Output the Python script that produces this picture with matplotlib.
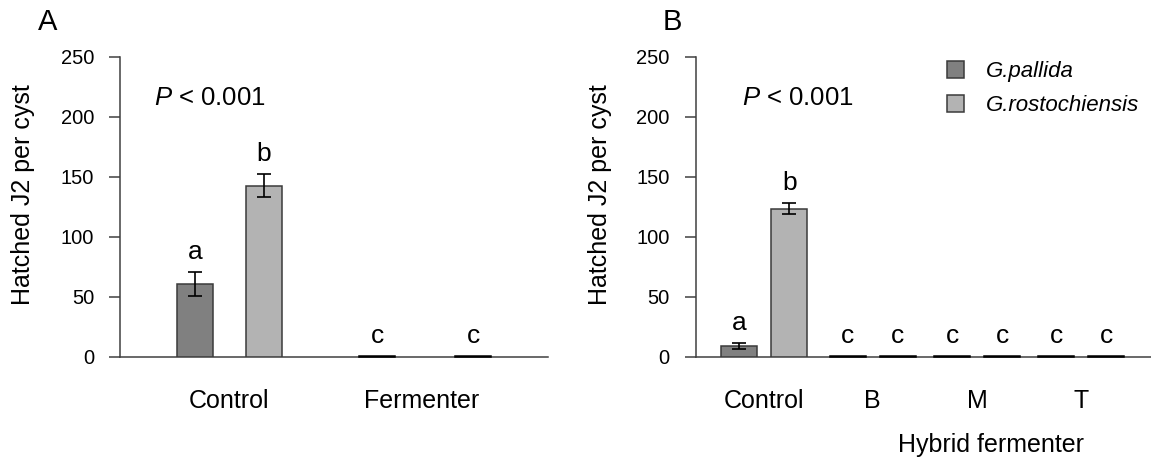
import matplotlib
matplotlib.use("Agg")
import matplotlib.pyplot as plt
from matplotlib.patches import Patch

plt.rcParams['font.family'] = ['Liberation Sans', 'DejaVu Sans']
plt.rcParams['mathtext.fontset'] = 'custom'
plt.rcParams['mathtext.it'] = 'Liberation Sans:italic'
plt.rcParams['mathtext.rm'] = 'Liberation Sans'

# panel A
groups_a = ['Control', 'Fermenter']
pallida_a = [60.7, 0.6]
pallida_a_err = [9.9, 0]
rost_a = [142.5, 0.6]
rost_a_err = [9.5, 0]
letters_pallida_a = ['a', 'c']
letters_rost_a = ['b', 'c']

# panel B
groups_b = ['Control', 'B', 'M', 'T']
pallida_b = [9.3, 0.6, 0.6, 0.6]
pallida_b_err = [2.3, 0, 0, 0]
rost_b = [123.3, 0.6, 0.6, 0.6]
rost_b_err = [4.5, 0, 0, 0]
letters_pallida_b = ['a', 'c', 'c', 'c']
letters_rost_b = ['b', 'c', 'c', 'c']

species = ['G.pallida', 'G.rostochiensis']
colors = ['#808080', '#b3b3b3']
edge = '#3a3a3a'
axcol = '#404040'

W, H = 1151, 459
fig = plt.figure(figsize=(W / 100, H / 100), dpi=100)


def add_axes(x0, x1, y0, y1):
    return fig.add_axes([x0 / W, 1 - y1 / H, (x1 - x0) / W, (y1 - y0) / H])


def draw(ax, pos, off, width, vals, errs, letters, xmax):
    for k in range(2):
        xs = [p + (2 * k - 1) * o for p, o in zip(pos, off)]
        bars = ax.bar(xs, vals[k], width, color=colors[k], edgecolor=edge,
                      linewidth=1.1, zorder=3)
        for b, v in zip(bars, vals[k]):
            if v < 1:
                b.set_edgecolor('black')
                b.set_clip_on(False)
        ax.errorbar([x for x, v in zip(xs, errs[k]) if v > 0],
                    [y for y, v in zip(vals[k], errs[k]) if v > 0],
                    yerr=[v for v in errs[k] if v > 0], fmt='none',
                    ecolor='black', elinewidth=1.2, capsize=5, capthick=1.2,
                    zorder=4)
        for x, y, er, t in zip(xs, vals[k], errs[k], letters[k]):
            ax.text(x, y + er + 17, t, ha='center', va='center', fontsize=19)
    ax.set_xlim(0, xmax)
    ax.set_ylim(0, 250)
    ax.set_yticks(range(0, 251, 50))
    for s in ['top', 'right']:
        ax.spines[s].set_visible(False)
    for s in ['left', 'bottom']:
        ax.spines[s].set_color(axcol)
        ax.spines[s].set_linewidth(1.1)
    ax.tick_params(axis='y', length=8, width=1.1, color=axcol, pad=11,
                   labelsize=14.5)
    ax.tick_params(axis='x', length=0, pad=23, labelsize=18)


axA = add_axes(120.4, 548.2, 56.7, 357)
draw(axA, [1.02, 2.85], [0.323, 0.449], 0.332,
     [pallida_a, rost_a], [pallida_a_err, rost_a_err],
     [letters_pallida_a, letters_rost_a], 4.0)
axA.set_xticks([1.02, 2.82])
axA.set_xticklabels(groups_a)

axB = add_axes(695.8, 1151, 56.7, 357)
draw(axB, [0.649, 1.675, 2.663, 3.648], [0.237] * 4, 0.34,
     [pallida_b, rost_b], [pallida_b_err, rost_b_err],
     [letters_pallida_b, letters_rost_b], 4.31)
axB.set_xticks([0.649, 1.675, 2.663, 3.648])
axB.set_xticklabels(groups_b)

# y labels, panel letters, P values
for xl in [23, 600]:
    fig.text(xl / W, 1 - 195 / H, 'Hatched J2 per cyst', rotation=90,
             ha='center', va='center', fontsize=18)
fig.text(38 / W, 1 - 22 / H, 'A', ha='left', va='center', fontsize=21)
fig.text(663 / W, 1 - 22 / H, 'B', ha='left', va='center', fontsize=21)
for xp in [154, 742]:
    fig.text(xp / W, 1 - 98 / H, r'$\mathit{P}$ < 0.001', ha='left',
             va='center', fontsize=18.5)
fig.text(991.5 / W, 1 - 445 / H, 'Hybrid fermenter', ha='center',
         va='center', fontsize=18)

handles = [Patch(facecolor=c, edgecolor=edge, linewidth=1.1) for c in colors]
leg = fig.legend(handles, species, loc='upper left',
                 bbox_to_anchor=(947 / W, 1 - 61 / H), frameon=False,
                 borderpad=0, borderaxespad=0, handlelength=0.77,
                 handleheight=0.77, handletextpad=1.0, labelspacing=0.6,
                 prop={'size': 16, 'style': 'italic'})

fig.savefig('out.png', dpi=100)
